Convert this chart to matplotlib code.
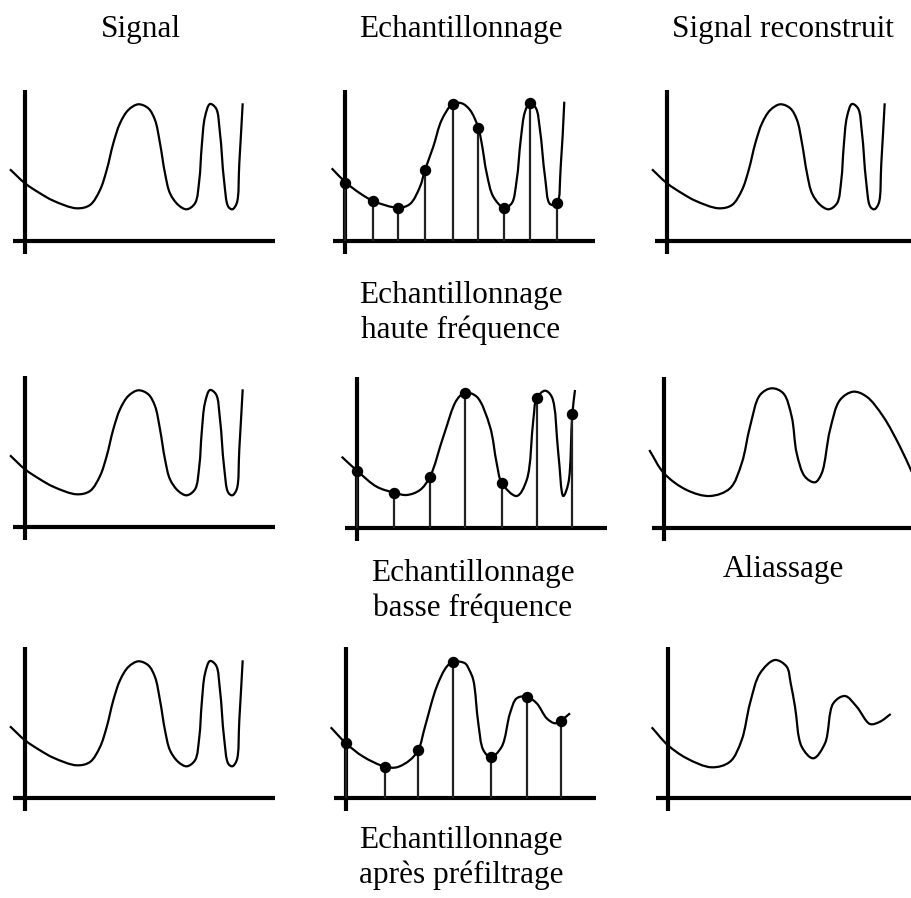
import matplotlib.pyplot as plt
from matplotlib.path import Path
from matplotlib.patches import PathPatch

plt.rcParams['font.family'] = ['Liberation Serif', 'DejaVu Serif']

# signal original (unités ~ pixels depuis l'origine des axes)
signal_x = [-15, 0, 15, 28.3, 51.7, 65, 75, 81.7, 88.3, 95, 103.3, 113.3, 123.3, 130, 135,
            140, 145, 153.3, 161.7, 170, 174.3, 176.7, 180, 185, 191, 195, 199, 203.3,
            207.3, 211.7, 214.3, 217.7]
signal_y = [71.7, 57.7, 47.7, 40.3, 32.7, 36, 51, 71, 97.7, 117.7, 131, 136.7, 132.7, 121, 97.7,
            67.7, 47.7, 36, 31.7, 37.7, 61, 94.3, 124.3, 137, 132.7, 107.7, 61, 34.3,
            31.7, 37.7, 77.7, 137.7]

# échantillonnage haute fréquence
hf_curve_x = [-13.3, 1, 15, 28.3, 53.3, 65, 75, 80, 88.3, 96.7, 107.7, 116.7, 125, 133.3,
              136.7, 141.7, 148.3, 159, 166.7, 171.7, 175.7, 180, 185, 191, 195, 200, 205,
              211.7, 215.7, 219.3]
hf_curve_y = [72.7, 58.3, 47.7, 40, 33.3, 37, 54.3, 71, 94.3, 121, 137, 137.7, 131, 113.3,
              97.7, 67.7, 44.3, 33.3, 37.7, 61, 101, 129.3, 138.3, 132.7, 111, 64.3, 37,
              37, 74.3, 139.3]
hf_sample_x = [0, 28.3, 53.3, 80, 107.7, 133.3, 159, 185, 211.7]
hf_sample_y = [58, 40, 33.3, 71, 137, 113.3, 33.3, 138.3, 37.7]

# échantillonnage basse fréquence
bf_curve_x = [-15.3, 0.3, 19.7, 37.3, 49.7, 63, 73, 86.3, 99.7, 108, 119.7, 133, 139.7,
              144.7, 159.7, 169.7, 176.3, 179.7, 188, 194.7, 201.3, 206.3, 211.3, 215.3, 218]
bf_curve_y = [71.3, 57, 41.3, 35.3, 33, 38, 51.3, 91.3, 128, 135.3, 131.3, 101.3, 64.7,
              45.3, 32, 48, 108, 129.7, 137.3, 131.3, 74.7, 32, 44.7, 113.7, 138]
bf_sample_x = [0.3, 37.3, 73, 108, 144.7, 179.7, 215.3]
bf_sample_y = [57, 35.3, 51.3, 135.3, 45.3, 129.7, 113.7]

# échantillonnage après préfiltrage
pf_curve_x = [-15.3, 0, 17.3, 39, 50.7, 64, 72.3, 79, 90.7, 100.7, 107.3, 119, 123.3, 127.3,
              132.3, 137.3, 144.7, 155.7, 164, 170.7, 180.7, 190.7, 200.7, 209, 214.7, 224]
pf_curve_y = [70.7, 54.7, 41.3, 31.3, 30.7, 38, 48, 71.3, 111.3, 131.3, 136.3, 134.7, 128, 118,
              74.7, 48, 40.7, 51.3, 84.7, 99.7, 101.3, 94.7, 79.7, 74.7, 77.3, 84.7]
pf_sample_x = [0, 39, 72.3, 107.3, 144.7, 180.7, 214.7]
pf_sample_y = [54.7, 31.3, 48, 136.3, 40.7, 101.3, 77.3]

# aliassage
alias_x = [-14.7, 0, 22.7, 46, 66, 77.7, 86, 96, 107.7, 119.3, 127.7, 132.7, 141, 151,
           157.7, 166, 176, 189.3, 202.7, 219.3, 236, 247.7]
alias_y = [78, 54.7, 38, 32, 39.7, 64.7, 101.3, 133, 139.7, 134.7, 111.3, 74.7, 51.3, 45.7,
           54.7, 98, 128, 136.3, 131.3, 111.3, 81.3, 56.3]

# reconstruction après préfiltrage
recon_x = [-16.3, -0.3, 18.7, 43.7, 62, 73.7, 82, 92, 107, 118.7, 122.7, 127, 133.7, 145.3, 157,
           165.3, 177, 188.7, 202, 212, 222.7]
recon_y = [70.7, 53, 39.7, 30.7, 36.3, 58, 94.7, 124.7, 138, 131.3, 114.7, 91.3, 51.3, 39.7, 54.7,
           94.7, 102, 91.3, 74, 76.3, 84]


def smooth_path(xs, ys, alpha=0.5):
    # Catmull-Rom centripète passant par les points, converti en Bézier
    pts = list(zip(xs, ys))
    n = len(pts)
    verts = [pts[0]]
    codes = [Path.MOVETO]

    def dist(a, b):
        return max(((a[0] - b[0]) ** 2 + (a[1] - b[1]) ** 2) ** (alpha / 2), 1e-6)

    for i in range(n - 1):
        p1, p2 = pts[i], pts[i + 1]
        d2 = dist(p1, p2)
        if i > 0:
            p0 = pts[i - 1]
            d1 = dist(p0, p1)
            c1 = tuple((d1 ** 2 * p2[k] - d2 ** 2 * p0[k] + (2 * d1 ** 2 + 3 * d1 * d2 + d2 ** 2) * p1[k])
                       / (3 * d1 * (d1 + d2)) for k in range(2))
        else:
            c1 = (p1[0] + (p2[0] - p1[0]) / 3, p1[1] + (p2[1] - p1[1]) / 3)
        if i < n - 2:
            p3 = pts[i + 2]
            d3 = dist(p2, p3)
            c2 = tuple((d3 ** 2 * p1[k] - d2 ** 2 * p3[k] + (2 * d3 ** 2 + 3 * d3 * d2 + d2 ** 2) * p2[k])
                       / (3 * d3 * (d3 + d2)) for k in range(2))
        else:
            c2 = (p2[0] - (p2[0] - p1[0]) / 3, p2[1] - (p2[1] - p1[1]) / 3)
        verts += [c1, c2, p2]
        codes += [Path.CURVE4] * 3
    return Path(verts, codes)


W, H = 912, 898
fig = plt.figure(figsize=(W / 100, H / 100), dpi=100)


def panel(ox, oy, cx, cy, sx=None, sy=None):
    x0, x1, y0, y1 = -20, 250, -16, 156
    ax = fig.add_axes([(ox + x0) / W, (H - oy + y0) / H, (x1 - x0) / W, (y1 - y0) / H])
    ax.set_xlim(x0, x1)
    ax.set_ylim(y0, y1)
    ax.axis('off')
    ax.plot([-12, 250], [0, 0], color='black', lw=3.0, solid_capstyle='butt')
    ax.plot([0, 0], [-13, 151], color='black', lw=3.0, solid_capstyle='butt')
    ax.add_patch(PathPatch(smooth_path(cx, cy), fill=False, lw=1.6, color='black'))
    if sx is not None:
        ax.vlines(sx, 0, sy, color='#222222', lw=1.6)
        ax.plot(sx, sy, 'o', color='black', markersize=7.2, zorder=5)
    return ax


panel(25, 241, signal_x, signal_y)
panel(345, 241, hf_curve_x, hf_curve_y, hf_sample_x, hf_sample_y)
panel(667, 241, signal_x, signal_y)
panel(25, 527, signal_x, signal_y)
panel(357, 528, bf_curve_x, bf_curve_y, bf_sample_x, bf_sample_y)
panel(664, 528, alias_x, alias_y)
panel(25, 798, signal_x, signal_y)
panel(346, 798, pf_curve_x, pf_curve_y, pf_sample_x, pf_sample_y)
panel(668, 798, recon_x, recon_y)

fs = 22.5
ls = 1.26
fig.text(141 / W, 1 - 30 / H, 'Signal', ha='center', va='center', fontsize=fs)
fig.text(461 / W, 1 - 30 / H, 'Echantillonnage', ha='center', va='center', fontsize=fs)
fig.text(783 / W, 1 - 30 / H, 'Signal reconstruit', ha='center', va='center', fontsize=fs)
fig.text(461 / W, 1 - 313 / H, 'Echantillonnage\nhaute fréquence', ha='center', va='center',
         fontsize=fs, linespacing=ls)
fig.text(473 / W, 1 - 591 / H, 'Echantillonnage\nbasse fréquence', ha='center', va='center',
         fontsize=fs, linespacing=ls)
fig.text(783 / W, 1 - 570 / H, 'Aliassage', ha='center', va='center', fontsize=fs)
fig.text(461 / W, 1 - 858 / H, 'Echantillonnage\naprès préfiltrage', ha='center', va='center',
         fontsize=fs, linespacing=ls)

fig.savefig('out.png', dpi=100)
